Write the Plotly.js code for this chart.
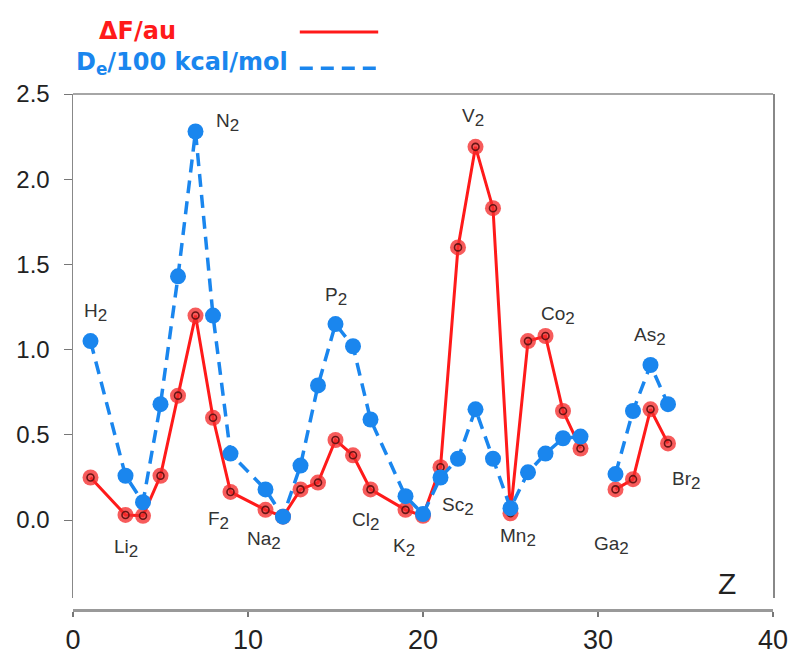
<!DOCTYPE html>
<html>
<head>
<meta charset="utf-8">
<script src="https://cdn.plot.ly/plotly-3.0.1.min.js"></script>
<style>html,body{margin:0;padding:0;background:#fff;}#chart{width:791px;height:657px;}</style>
</head>
<body>
<div id="chart"></div>
<script>
// Atomic number Z of each homonuclear diatomic (null = gap at Zn)
const zValues = [1,3,4,5,6,7,8,9,11,12,13,14,15,16,17,19,20,21,22,23,24,25,26,27,28,29,30,31,32,33,34];
// ΔF / au
const deltaF = [0.25,0.03,0.025,0.26,0.73,1.20,0.60,0.165,0.06,0.02,0.18,0.22,0.47,0.38,0.18,0.06,0.025,0.31,1.60,2.19,1.83,0.04,1.05,1.08,0.64,0.42,null,0.18,0.24,0.65,0.45];
// De / 100 kcal/mol
const dissoc = [1.05,0.26,0.105,0.68,1.43,2.28,1.20,0.39,0.18,0.02,0.32,0.79,1.15,1.02,0.59,0.14,0.035,0.25,0.36,0.65,0.36,0.07,0.28,0.39,0.48,0.49,null,0.27,0.64,0.91,0.68];

// Molecule labels
const labelText = ["H","Li","N","F","Na","P","Cl","K","Sc","V","Mn","Co","Ga","As","Br"];
const labelZ    = [1.3, 3.0, 8.85, 8.3, 10.9, 15.0, 16.7, 18.9, 22.0, 22.85, 25.4, 27.7, 30.75, 32.95, 35.0];
const labelY    = [1.22,-0.165,2.33,0.0,-0.12,1.31,-0.01,-0.16,0.08,2.36,-0.105,1.2,-0.15,1.08,0.23];

const yTicks = [0,0.5,1.0,1.5,2.0,2.5];
const xTicks = [0,10,20,30,40];

const RED = '#ff1a1a';
const BLUE = '#1a86ee';
const FONT = 'Liberation Sans, Arial, sans-serif';
const LFONT = 'DejaVu Sans, Verdana, sans-serif';

const traces = [
  {x: zValues, y: deltaF, type: 'scatter', mode: 'lines+markers', connectgaps: false,
   line: {color: RED, width: 3},
   marker: {size: 16, color: 'rgba(245,45,45,0.78)', line: {width: 0}}, hoverinfo: 'x+y'},
  {x: zValues, y: deltaF, type: 'scatter', mode: 'markers',
   marker: {size: 7, symbol: 'circle-open', color: '#6a1515', line: {width: 1.6, color: '#6a1515'}}, hoverinfo: 'skip'},
  {x: zValues, y: dissoc, type: 'scatter', mode: 'lines+markers', connectgaps: false,
   line: {color: BLUE, width: 3.5, dash: '13px,8px'},
   marker: {size: 16, color: BLUE}, hoverinfo: 'x+y'}
];

const annotations = labelText.map((t, i) => ({
  x: labelZ[i], y: labelY[i], xref: 'x', yref: 'y',
  text: t + '<sub><span style="font-size:17px">2</span></sub>', showarrow: false,
  font: {family: FONT, size: 19, color: '#333'}
}));
annotations.push({x: 37.37, y: -0.375, xref: 'x', yref: 'y', text: 'Z', showarrow: false,
  font: {family: FONT, size: 30, color: '#222'}});
annotations.push({x: 0.15, y: 1.122, xref: 'paper', yref: 'paper', xanchor: 'right', yanchor: 'middle',
  text: '<b>ΔF/au</b>', showarrow: false, font: {family: LFONT, size: 24, color: RED}});
annotations.push({x: 0.31, y: 1.060, xref: 'paper', yref: 'paper', xanchor: 'right', yanchor: 'middle',
  text: '<b>D<sub>e</sub>/100 kcal/mol</b>', showarrow: false, font: {family: LFONT, size: 24, color: BLUE}});

const layout = {
  width: 791, height: 657,
  margin: {l: 73, r: 18, t: 94, b: 47},
  paper_bgcolor: '#fff', plot_bgcolor: '#fff',
  showlegend: false,
  xaxis: {range: [0, 40], tickvals: xTicks, ticktext: xTicks.map(String),
    anchor: 'free', position: 0, showgrid: false, zeroline: false,
    showline: true, linecolor: '#999', linewidth: 3,
    ticks: 'outside', ticklen: 5, tickcolor: '#777', tickwidth: 1.5,
    ticklabelstandoff: 0,
    tickfont: {family: FONT, size: 27, color: '#222'}},
  yaxis: {range: [-0.458, 2.5], domain: [0.023, 1], tickvals: yTicks,
    ticktext: yTicks.map(v => v.toFixed(1)), showgrid: false, zeroline: false,
    showline: true, mirror: true, linecolor: '#888', linewidth: 1.5,
    ticks: 'outside', ticklen: 8, tickcolor: '#777',
    ticklabelstandoff: 9,
    tickfont: {family: FONT, size: 24, color: '#222'}},
  shapes: [
    {type: 'line', xref: 'paper', yref: 'paper', x0: 0, x1: 1, y0: 1, y1: 1, line: {color: '#888', width: 1.5}},
    {type: 'line', xref: 'paper', yref: 'paper', x0: 0.324, x1: 0.436, y0: 1.120, y1: 1.120, line: {color: RED, width: 3}},
    {type: 'line', xref: 'paper', yref: 'paper', x0: 0.324, x1: 0.436, y0: 1.050, y1: 1.050, line: {color: BLUE, width: 3.5, dash: '13px,8px'}}
  ],
  annotations: annotations
};

Plotly.newPlot('chart', traces, layout, {displayModeBar: false, staticPlot: true});
</script>
</body>
</html>
